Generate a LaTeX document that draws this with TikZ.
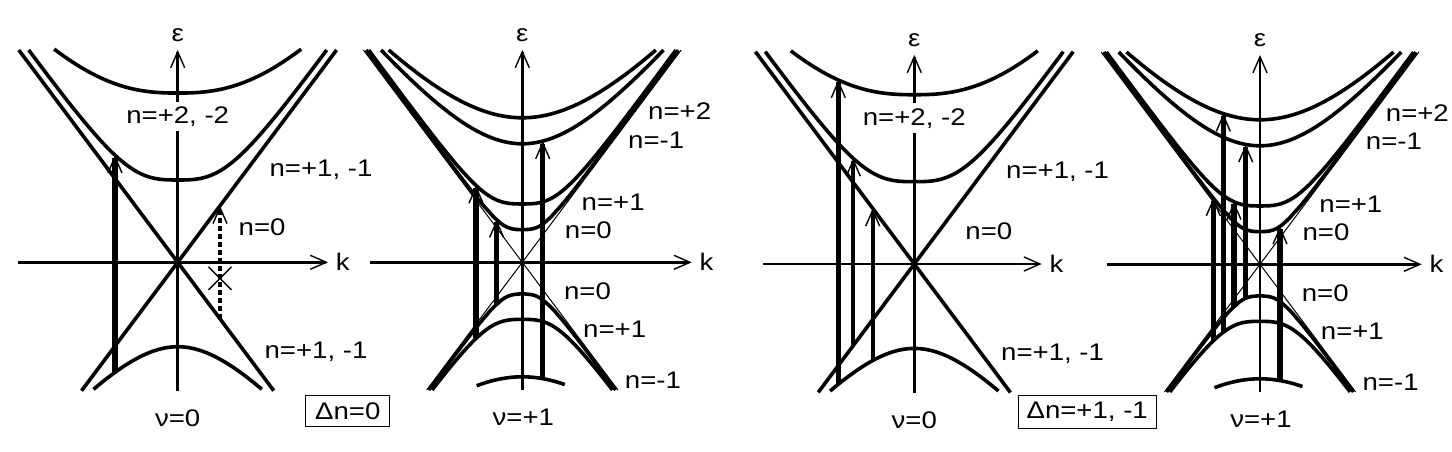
\documentclass[tikz,border=0pt]{standalone}
\usepackage{fontspec}
\setmainfont{Liberation Sans}[FakeStretch=1.15]
\usetikzlibrary{arrows.meta}

\begin{document}
\begin{tikzpicture}[x=50pt, y=50pt,
  >={Straight Barb[length=8pt,width=7pt,line width=0.7pt]},
  font=\fontsize{12}{14}\selectfont,
  declare function={
    band(\q,\gap,\slo,\pw)=(\gap^\pw+(\slo*abs(\q)+0.0001)^\pw)^(1/\pw);
    upone(\q)=band(\q,0.823,1.397,3);
    uptwo(\q)=band(\q,1.693,1.241,2.5);
    lowone(\q)=-band(\q,0.844,1.127,2);
    pzero(\q)=band(\q,0.325,1.358,3);
    pone(\q)=band(\q,0.583,1.372,3);
    pmone(\q)=band(\q,1.185,1.247,2);
    ptwo(\q)=band(\q,1.445,1.164,2);
    mzero(\q)=-band(\q,0.315,1.358,3);
    mone(\q)=-band(\q,0.57,1.372,3);
    mmone(\q)=-band(\q,1.145,1.01,2);
  },
  axis/.style={line width=1.3pt, ->},
  level/.style={line width=1.8pt},
  cone/.style={line width=0.5pt},
  pump/.style={line width=2.6pt, ->},
  lab/.style={anchor=base west, inner sep=0pt},
]
  \useasboundingbox (0,0) rectangle (14.52,4.51);

  % nu=0 panels
  \foreach \ox/\oy/\kl/\kr/\et/\i in {1.777/1.887/-1.597/1.503/2.123/1, 9.143/1.87/-1.51/1.274/2.09/3}{
    \begin{scope}[shift={(\ox,\oy)}]
      \draw[axis] (\kl,0) -- (\kr,0) node[right] (k\i) {k};
      \draw[axis] (0,-1.29) -- (0,\et) node[above] (eps\i) {ε};
      \draw[level] (-0.961,-1.284) -- (1.589,2.123);
      \draw[level] (-1.589,2.123) -- (0.961,-1.284);
      \draw[level, domain=-1.49:1.49, samples=60, smooth, variable=\x] plot ({\x}, {upone(\x)});
      \draw[level, domain=-1.235:1.235, samples=40, smooth, variable=\x] plot ({\x}, {uptwo(\x)});
      \draw[level, domain=-0.842:0.842, samples=40, smooth, variable=\x] plot ({\x}, {lowone(\x)});
      \node[fill=white, inner sep=2.5pt, anchor=base] (two\i) at (0,1.39) {n=+2, -2};
      \node[lab] (one\i) at (0.915,0.856) {n=+1, -1};
      \node[lab] (low\i) at (0.865,-0.96) {n=+1, -1};
      \node[anchor=base] (nu\i) at (0,-1.64) {ν=0};
    \end{scope}
  }

  % nu=+1 panels
  \foreach \ox/\oy/\kl/\kr/\et/\i in {5.223/1.887/-1.523/1.694/2.123/2, 12.60/1.867/-1.533/1.617/2.093/4}{
    \begin{scope}[shift={(\ox,\oy)}]
      \draw[axis] (\kl,0) -- (\kr,0) node[right] (k\i) {k};
      \draw[axis] (0,-1.277) -- (0,\et) node[above] (eps\i) {ε};
      \draw[cone] (-0.956,-1.277) -- (1.589,2.123);
      \draw[cone] (-1.589,2.123) -- (0.956,-1.277);
      \draw[level, domain=-1.336:1.336, samples=50, smooth, variable=\x] plot ({\x}, {ptwo(\x)});
      \draw[level, domain=-1.412:1.412, samples=50, smooth, variable=\x] plot ({\x}, {pmone(\x)});
      \draw[level, domain=-1.536:1.536, samples=80, smooth, variable=\x] plot ({\x}, {pone(\x)});
      \draw[level, domain=-1.561:1.561, samples=80, smooth, variable=\x] plot ({\x}, {pzero(\x)});
      \draw[level, domain=-0.935:0.935, samples=60, smooth, variable=\x] plot ({\x}, {mzero(\x)});
      \draw[level, domain=-0.902:0.902, samples=60, smooth, variable=\x] plot ({\x}, {mone(\x)});
      \draw[level, domain=-0.456:0.425, samples=30, smooth, variable=\x] plot ({\x}, {mmone(\x)});
      \node[lab] (ptwo\i) at (1.255,1.425) {n=+2};
      \node[lab] (pmone\i) at (1.055,1.143) {n=-1};
      \node[lab] (pone\i) at (0.59,0.52) {n=+1};
      \node[lab] (pzero\i) at (0.422,0.243) {n=0};
      \node[lab] (mzero\i) at (0.414,-0.373) {n=0};
      \node[lab] (mone\i) at (0.605,-0.753) {n=+1};
      \node[lab] (mmone\i) at (1.022,-1.265) {n=-1};
      \node[anchor=base] (nu\i) at (0.01,-1.635) {ν=+1};
    \end{scope}
  }

  % transitions, panel 1
  \begin{scope}[shift={(1.777,1.887)}]
    \node[lab] (zero1) at (0.606,0.266) {n=0};
    \coordinate (a1s) at (-0.627,{lowone(-0.627)});
    \coordinate (a1e) at (-0.627,{upone(-0.627)});
    \draw[pump] (a1s) -- (a1e);
    \coordinate (d1s) at (0.423,-0.565);
    \coordinate (d1e) at (0.423,0.565);
    \draw[pump, line width=1.9pt, dash pattern=on 2.5pt off 1.5pt] (d1s) -- (d1e);
    \draw[line width=0.7pt] (0.308,-0.045) -- (0.538,-0.275) (0.308,-0.275) -- (0.538,-0.045);
  \end{scope}

  % transitions, panel 2
  \begin{scope}[shift={(5.223,1.887)}]
    \coordinate (a2s) at (-0.463,{mone(-0.463)});
    \coordinate (a2e) at (-0.463,{pone(-0.463)});
    \coordinate (b2s) at (-0.257,{mzero(-0.257)});
    \coordinate (b2e) at (-0.257,{pzero(-0.257)});
    \coordinate (c2s) at (0.204,{mmone(0.204)});
    \coordinate (c2e) at (0.204,{pmone(0.204)});
    \draw[pump] (a2s) -- (a2e);
    \draw[pump] (b2s) -- (b2e);
    \draw[pump] (c2s) -- (c2e);
  \end{scope}

  % transitions, panel 3
  \begin{scope}[shift={(9.143,1.87)}]
    \node[lab] (zero3) at (0.507,0.25) {n=0};
    \coordinate (a3s) at (-0.76,{lowone(-0.76)});
    \coordinate (a3e) at (-0.76,{uptwo(-0.76)});
    \coordinate (b3s) at (-0.61,-0.815);
    \coordinate (b3e) at (-0.61,{upone(-0.61)});
    \coordinate (c3s) at (-0.416,{lowone(-0.416)});
    \coordinate (c3e) at (-0.416,0.556);
    \draw[pump] (a3s) -- (a3e);
    \draw[pump, line width=2pt] (b3s) -- (b3e);
    \draw[pump, line width=2pt] (c3s) -- (c3e);
  \end{scope}

  % transitions, panel 4
  \begin{scope}[shift={(12.60,1.867)}]
    \coordinate (a4s) at (-0.467,{mone(-0.467)});
    \coordinate (a4e) at (-0.467,{pzero(-0.467)});
    \coordinate (b4s) at (-0.367,{mone(-0.367)});
    \coordinate (b4e) at (-0.367,{ptwo(-0.367)});
    \coordinate (c4s) at (-0.26,{mzero(-0.26)});
    \coordinate (c4e) at (-0.26,{pone(-0.26)});
    \coordinate (d4s) at (-0.143,{mzero(-0.143)});
    \coordinate (d4e) at (-0.143,{pmone(-0.143)});
    \coordinate (e4s) at (0.20,{mmone(0.20)});
    \coordinate (e4e) at (0.20,{pzero(0.20)});
    \draw[pump] (a4s) -- (a4e);
    \draw[pump] (b4s) -- (b4e);
    \draw[pump] (c4s) -- (c4e);
    \draw[pump] (d4s) -- (d4e);
    \draw[pump] (e4s) -- (e4e);
  \end{scope}

  \node[draw, line width=0.5pt, minimum width=42pt, minimum height=15.5pt, inner sep=0pt] (dn0) at (3.478,0.398) {Δn=0};
  \node[draw, line width=0.5pt, minimum width=68.9pt, minimum height=16.5pt, inner sep=0pt] (dn1) at (10.872,0.395) {Δn=+1, -1};
\end{tikzpicture}
\end{document}
